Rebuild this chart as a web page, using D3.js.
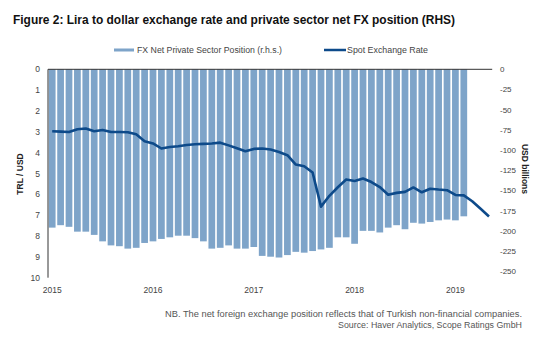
<!DOCTYPE html>
<html>
<head>
<meta charset="utf-8" />
<script src="https://d3js.org/d3.v7.min.js"></script>
<style>
  body { margin: 0; background: #fff; }
  text { font-family: "Liberation Sans", Arial, sans-serif; }
</style>
</head>
<body>
<svg width="541" height="338"></svg>
<script>
  // monthly, Jan 2015 .. May 2019
  var months = d3.timeMonth.range(new Date(2015, 0, 1), new Date(2019, 5, 1));
  var yearTicks = ["2015", "2016", "2017", "2018", "2019"];
  var leftTicks = [0, 1, 2, 3, 4, 5, 6, 7, 8, 9, 10];
  var rightTicks = [0, -25, -50, -75, -100, -125, -150, -175, -200, -225, -250];

  // FX net private sector position, USD bn (Jan 2015 .. Feb 2019)
  var fxPosition = [
    -196, -193, -195, -201, -201, -205, -213, -218, -219, -222, -221, -215,
    -213, -210, -208, -206, -206, -209, -213, -222, -221, -218, -222, -222,
    -220, -231, -232, -233, -230, -226, -227, -225, -223, -221, -208, -208,
    -216, -200, -200, -202, -196, -193, -198, -190, -191, -189, -187, -186,
    -187, -182
  ];

  // spot exchange rate TRL / USD (Jan 2015 .. May 2019)
  var spotRate = [
    2.97, 2.99, 3.01, 2.88, 2.84, 2.97, 2.91, 3.01, 3.01, 3.02, 3.12, 3.45,
    3.56, 3.80, 3.73, 3.69, 3.63, 3.60, 3.58, 3.56, 3.52, 3.65, 3.79, 3.93,
    3.82, 3.80, 3.85, 3.97, 4.12, 4.57, 4.65, 4.95, 6.59, 6.07, 5.66, 5.29,
    5.36, 5.24, 5.41, 5.65, 6.02, 5.93, 5.88, 5.67, 5.90, 5.73, 5.77, 5.80,
    6.03, 6.05, 6.33, 6.69, 7.06
  ];

  var svg = d3.select("svg");
  var plotLeft = 48, plotRight = 493.2, plotTop = 69.3, plotBottom = 277.7;

  var x = d3.scaleBand()
    .domain(months.map(function (d) { return +d; }))
    .range([plotLeft, plotRight])
    .paddingInner(0.2)
    .paddingOuter(0.1);

  var yL = d3.scaleLinear().domain([0, 10]).range([plotTop, plotBottom]);
  var yR = d3.scaleLinear().domain([0, -258]).range([plotTop, plotBottom]);

  // title
  svg.append("text")
    .attr("x", 13).attr("y", 24)
    .attr("textLength", 442).attr("lengthAdjust", "spacingAndGlyphs")
    .style("font-size", "12px").style("font-weight", "bold").attr("fill", "#111")
    .text("Figure 2: Lira to dollar exchange rate and private sector net FX position (RHS)");

  // legend
  svg.append("rect").attr("x", 114).attr("y", 48.5).attr("width", 20).attr("height", 3)
    .attr("fill", "#7ea4c9");
  svg.append("text").attr("x", 137).attr("y", 53)
    .attr("textLength", 145).attr("lengthAdjust", "spacingAndGlyphs")
    .style("font-size", "8.5px").attr("fill", "#444")
    .text("FX Net Private Sector Position (r.h.s.)");
  svg.append("line").attr("x1", 324).attr("x2", 346).attr("y1", 50).attr("y2", 50)
    .attr("stroke", "#0d4a8a").attr("stroke-width", 2.5);
  svg.append("text").attr("x", 347).attr("y", 53)
    .attr("textLength", 81).attr("lengthAdjust", "spacingAndGlyphs")
    .style("font-size", "8.5px").attr("fill", "#444")
    .text("Spot Exchange Rate");

  // bars
  svg.append("g").selectAll("rect")
    .data(fxPosition)
    .enter().append("rect")
    .attr("x", function (d, i) { return x(+months[i]); })
    .attr("width", x.bandwidth())
    .attr("y", yR(0))
    .attr("height", function (d) { return yR(d) - yR(0); })
    .attr("fill", "#7ea4c9");

  // zero line at top and left axis
  svg.append("line").attr("x1", plotLeft).attr("x2", plotRight - 1).attr("y1", plotTop).attr("y2", plotTop)
    .attr("stroke", "#333").attr("stroke-width", 1);
  svg.append("line").attr("x1", plotLeft).attr("x2", plotLeft).attr("y1", plotTop).attr("y2", plotBottom)
    .attr("stroke", "#333").attr("stroke-width", 1);

  // spot line
  var line = d3.line()
    .x(function (d, i) { return x(+months[i]) + x.bandwidth() / 2; })
    .y(function (d) { return yL(d); });
  svg.append("path").datum(spotRate)
    .attr("d", line)
    .attr("fill", "none")
    .attr("stroke", "#0d4a8a")
    .attr("stroke-width", 2.6)
    .attr("stroke-linejoin", "round");

  // left ticks
  svg.append("g").selectAll("text").data(leftTicks).enter().append("text")
    .attr("x", 40).attr("y", function (d) { return yL(d) + 3; })
    .attr("text-anchor", "end")
    .style("font-size", "8.5px").attr("fill", "#444")
    .text(function (d) { return d; });

  // right ticks
  svg.append("g").selectAll("text").data(rightTicks).enter().append("text")
    .attr("x", 500).attr("y", function (d) { return yR(d) + 3; })
    .style("font-size", "8px").attr("fill", "#444")
    .text(function (d) { return d; });

  // year labels
  svg.append("g").selectAll("text").data(yearTicks).enter().append("text")
    .attr("x", function (d) { return x(+new Date(+d, 0, 1)) + x.bandwidth() / 2; })
    .attr("y", 293)
    .attr("text-anchor", "middle")
    .style("font-size", "8.5px").attr("fill", "#444")
    .text(function (d) { return d; });

  // axis titles
  svg.append("text")
    .attr("transform", "translate(23,174) rotate(-90)")
    .attr("text-anchor", "middle")
    .style("font-size", "8.5px").style("font-weight", "bold").attr("fill", "#222")
    .text("TRL / USD");
  svg.append("text")
    .attr("transform", "translate(522,169) rotate(90)")
    .attr("text-anchor", "middle")
    .style("font-size", "8.5px").style("font-weight", "bold").attr("fill", "#222")
    .text("USD billions");

  // notes
  svg.append("text").attr("x", 522).attr("y", 317)
    .attr("text-anchor", "end")
    .attr("textLength", 357).attr("lengthAdjust", "spacingAndGlyphs")
    .style("font-size", "8.5px").attr("fill", "#555")
    .text("NB. The net foreign exchange position reflects that of Turkish non-financial companies.");
  svg.append("text").attr("x", 522).attr("y", 328)
    .attr("text-anchor", "end")
    .attr("textLength", 184).attr("lengthAdjust", "spacingAndGlyphs")
    .style("font-size", "8.5px").attr("fill", "#555")
    .text("Source: Haver Analytics, Scope Ratings GmbH");
</script>
</body>
</html>
